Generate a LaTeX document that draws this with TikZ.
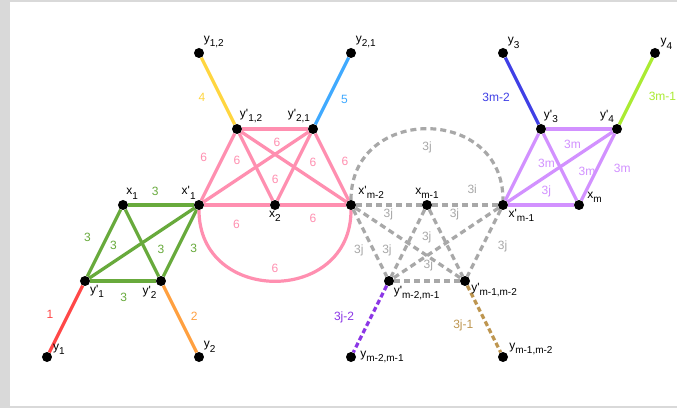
\documentclass[tikz,border=0pt]{standalone}
\usepackage{fontspec}
\setmainfont{Liberation Sans}
\usepackage{tikz}
\definecolor{kgreen}{RGB}{104,170,60}
\definecolor{kpink}{RGB}{255,143,176}
\definecolor{kgrey}{RGB}{168,168,168}
\definecolor{klav}{RGB}{210,145,255}
\definecolor{kred}{RGB}{255,72,72}
\definecolor{korange}{RGB}{255,160,64}
\definecolor{kyellow}{RGB}{255,214,64}
\definecolor{ksky}{RGB}{64,170,255}
\definecolor{kblue}{RGB}{64,64,230}
\definecolor{klime}{RGB}{170,235,50}
\definecolor{kviolet}{RGB}{140,55,230}
\definecolor{ktan}{RGB}{190,150,80}
\definecolor{kframe}{RGB}{217,217,217}
\newcommand{\prm}{\textquotesingle}
\newcommand{\nsub}[1]{\raisebox{-0.35em}{\fontsize{10}{10}\selectfont #1}}
\pgfdeclarelayer{background}
\pgfdeclarelayer{edges}
\pgfsetlayers{background,edges,main}

\begin{document}
\begin{tikzpicture}[x=76pt,y=76pt,
  every node/.style={font=\fontsize{12}{14}\selectfont},
  vtx/.style={circle,fill=black,inner sep=0pt,minimum size=10pt},
  lbl/.style={inner sep=1pt,text=black},
  gedge/.style={line width=3.2pt,color=kgreen},
  pedge/.style={line width=3.2pt,color=kpink},
  dedge/.style={line width=3.2pt,color=kgrey,dash pattern=on 6pt off 4pt},
  ledge/.style={line width=3.2pt,color=klav},
  tail/.style={line width=3.2pt},
  dtail/.style={line width=3.2pt,dash pattern=on 5pt off 3pt}
]
\useasboundingbox (-0.6184,-0.6711) rectangle (8.2895,4.6974);
\begin{pgfonlayer}{background}
\fill[kframe] (-0.6184,-0.6711) rectangle (8.2895,4.6974);
\fill[white] (-0.4868,-0.6447) rectangle (8.2895,4.671);
\end{pgfonlayer}

\node[vtx,label={[lbl]15:y\nsub{1}}] (y1) at (0,0) {};
\node[vtx,label={[lbl]-40:y\prm\nsub{1}}] (y1p) at (0.5,1) {};
\node[vtx,label={[lbl]-130:y\prm\nsub{2}}] (y2p) at (1.5,1) {};
\node[vtx,label={[lbl]45:y\nsub{2}}] (y2) at (2,0) {};
\node[vtx,label={[lbl]65:x\nsub{1}}] (x1) at (1,2) {};
\node[vtx,label={[lbl]115:x\prm\nsub{1}}] (x1p) at (2,2) {};
\node[vtx,label={[lbl]-90:x\nsub{2}}] (x2) at (3,2) {};
\node[vtx,label={[lbl,label distance=3pt]40:x\prm\nsub{m-2}}] (xm2p) at (4,2) {};
\node[vtx,label={[lbl]70:y\prm\nsub{1,2}}] (y12p) at (2.5,3) {};
\node[vtx,label={[lbl]110:y\prm\nsub{2,1}}] (y21p) at (3.5,3) {};
\node[vtx,label={[lbl]45:y\nsub{1,2}}] (y12) at (2,4) {};
\node[vtx,label={[lbl]45:y\nsub{2,1}}] (y21) at (4,4) {};
\node[vtx,label={[lbl]90:x\nsub{m-1}}] (xm1) at (5,2) {};
\node[vtx,label={[lbl]-30:x\prm\nsub{m-1}}] (xm1p) at (6,2) {};
\node[vtx,label={[lbl,label distance=2pt]10:x\nsub{m}}] (xm) at (7,2) {};
\node[vtx,label={[lbl]70:y\prm\nsub{3}}] (y3p) at (6.5,3) {};
\node[vtx,label={[lbl]110:y\prm\nsub{4}}] (y4p) at (7.5,3) {};
\node[vtx,label={[lbl]45:y\nsub{3}}] (y3) at (6,4) {};
\node[vtx,label={[lbl]30:y\nsub{4}}] (y4) at (8,4) {};
\node[vtx,label={[lbl]below right:y\prm\nsub{m-2,m-1}}] (ypm2) at (4.5,1) {};
\node[vtx,label={[lbl]-10:y\prm\nsub{m-1,m-2}}] (ypm1) at (5.5,1) {};
\node[vtx,label={[lbl,label distance=3pt]0:y\nsub{m-2,m-1}}] (ym2) at (4,0) {};
\node[vtx,label={[lbl]10:y\nsub{m-1,m-2}}] (ym1) at (6,0) {};

\begin{pgfonlayer}{edges}
\draw[gedge] (x1) -- node[pos=0.41,above=4.5pt] {3} (x1p);
\draw[gedge] (x1) -- node[pos=0.42,left=11pt] {3} (y1p);
\draw[gedge] (x1p) -- node[pos=0.77,above=7pt] {3} (y1p);
\draw[gedge] (x1) -- node[pos=0.6,right=7.4pt] {3} (y2p);
\draw[gedge] (x1p) -- node[pos=0.58,right=8pt] {3} (y2p);
\draw[gedge] (y1p) -- node[pos=0.51,below=7pt] {3} (y2p);

\draw[pedge] (x1p) -- node[pos=0.64,left=10.6pt] {6} (y12p);
\draw[pedge] (x1p) -- node[pos=0.32,above=10.5pt] {6} (y21p);
\draw[pedge] (y12p) -- node[pos=0.53,below=4pt] {6} (y21p);
\draw[pedge] (y12p) -- node[pos=0.69,right=4.7pt] {6} (x2);
\draw[pedge] (y21p) -- (x2);
\draw[pedge] (y12p) -- node[pos=0.68,above=7.9pt] {6} (xm2p);
\draw[pedge] (y21p) -- node[pos=0.42,right=7.4pt] {6} (xm2p);
\draw[pedge] (x1p) -- node[pos=0.49,below=9.9pt] {6} (x2);
\draw[pedge] (x2) -- node[pos=0.5,below=4pt] {6} (xm2p);
\draw[pedge] (x1p) to[out=-90,in=-90,looseness=1.6] node[pos=0.5,above=3.8pt] {6} (xm2p);

\draw[dedge] (xm2p) to[out=90,in=90,looseness=1.6] node[pos=0.5,below=8pt] {3j} (xm1p);
\draw[dedge] (xm2p) -- node[pos=0.49,below=-1pt] {3j} (xm1);
\draw[dedge] (xm1) -- node[pos=0.61,above=6pt] {3i} (xm1p);
\draw[dedge] (xm1p) -- node[pos=0.42,above=12pt] {3j} (ypm2);
\draw[dedge] (xm1) -- node[pos=0.42,left=7pt] {3j} (ypm1);
\draw[dedge] (xm2p) -- node[pos=0.3,below=10.5pt] {3j} (ypm1);
\draw[dedge] (xm2p) -- node[pos=0.61,left=5.3pt] {3j} (ypm2);
\draw[dedge] (xm1) -- (ypm2);
\draw[dedge] (xm1p) -- node[pos=0.55,right=10.6pt] {3j} (ypm1);
\draw[dedge] (ypm2) -- node[pos=0.52,above=5pt] {3j} (ypm1);

\draw[ledge] (y3p) -- node[pos=0.4,below=6pt] {3m} (y4p);
\draw[ledge] (xm1p) -- node[pos=0.55,right=9.5pt] {3m} (y3p);
\draw[ledge] (y3p) -- node[pos=0.56,right=11.7pt] {3m} (xm);
\draw[ledge] (y4p) -- node[pos=0.52,right=11.7pt] {3m} (xm);
\draw[ledge] (xm1p) -- (y4p);
\draw[ledge] (xm1p) -- node[pos=0.58,above=3pt] {3j} (xm);

\draw[tail,color=kred] (y1) -- node[pos=0.57,left=10pt] {1} (y1p);
\draw[tail,color=korange] (y2p) -- node[pos=0.46,right=7.4pt] {2} (y2);
\draw[tail,color=kyellow] (y12) -- node[pos=0.59,left=10.7pt] {4} (y12p);
\draw[tail,color=ksky] (y21) -- node[pos=0.62,right=8.2pt] {5} (y21p);
\draw[tail,color=kblue] (y3) -- node[pos=0.6,left=10.6pt] {3m-2} (y3p);
\draw[tail,color=klime] (y4) -- node[pos=0.58,right=10.5pt] {3m-1} (y4p);
\draw[dtail,color=kviolet] (ypm2) -- node[pos=0.47,left=12pt] {3j-2} (ym2);
\draw[dtail,color=ktan] (ypm1) -- node[pos=0.59,left=8.8pt] {3j-1} (ym1);
\end{pgfonlayer}
\end{tikzpicture}
\end{document}
